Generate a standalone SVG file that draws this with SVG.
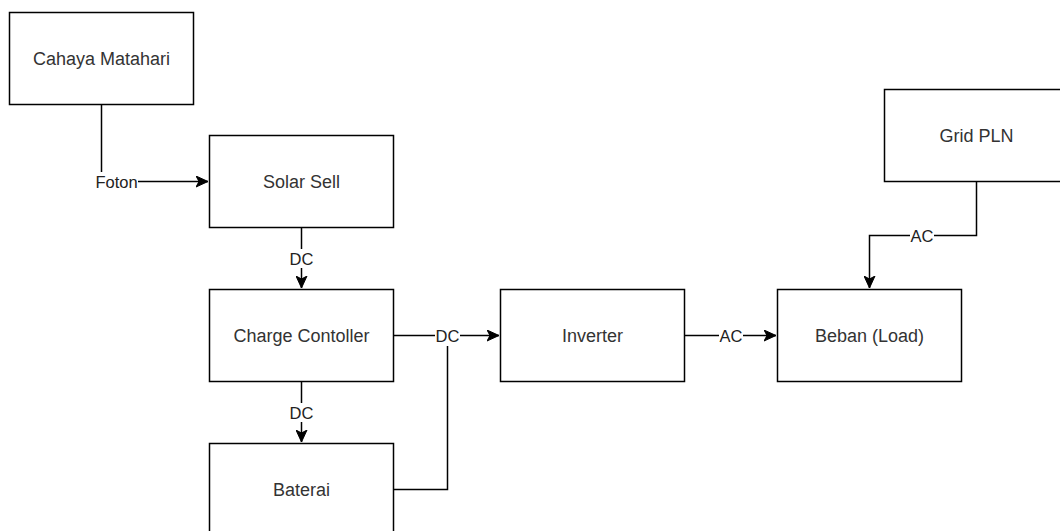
<svg xmlns="http://www.w3.org/2000/svg" width="1060" height="531" viewBox="0 0 1060 531">
<style>
.box{fill:#fff;stroke:#000;stroke-width:1.5}
.t{font-family:"Liberation Sans",Arial,sans-serif;font-size:18px;fill:#333;text-anchor:middle;dominant-baseline:central}
.e{fill:none;stroke:#000;stroke-width:1.5}
.lb{fill:#fff}
.lt{font-family:"Liberation Sans",Arial,sans-serif;font-size:16.5px;fill:#222;text-anchor:middle;dominant-baseline:central}
</style>
<defs>
<marker id="arr" markerUnits="userSpaceOnUse" markerWidth="14" markerHeight="12" refX="12" refY="6" orient="auto" viewBox="0 0 14 12">
<path d="M0,0.5 L12,6 L0,11.5 L3,6 Z" fill="#000" stroke="#000" stroke-width="1"/>
</marker>
</defs>
<rect width="1060" height="531" fill="#fff"/>
<g id="connectors">
<path class="e" d="M101.5,104.5 V181.5 H208" marker-end="url(#arr)"/>
<path class="e" d="M301.5,227.5 V288" marker-end="url(#arr)"/>
<path class="e" d="M301.5,381.5 V442" marker-end="url(#arr)"/>
<path class="e" d="M393.5,335.5 H499" marker-end="url(#arr)"/>
<path class="e" d="M393.5,489.5 H447.5 V335.5"/>
<path class="e" d="M684.5,335.5 H776" marker-end="url(#arr)"/>
<path class="e" d="M976.5,181.5 V235.5 H869.5 V288" marker-end="url(#arr)"/>
<rect class="lb" x="95" y="172" width="43" height="19"/>
<text class="lt" x="116.5" y="181.5">Foton</text>
<rect class="lb" x="289" y="249" width="25" height="19"/>
<text class="lt" x="301.5" y="258.5">DC</text>
<rect class="lb" x="289" y="403" width="25" height="19"/>
<text class="lt" x="301.5" y="412.5">DC</text>
<rect class="lb" x="435" y="326" width="25" height="20"/>
<text class="lt" x="447.5" y="335.5">DC</text>
<rect class="lb" x="719" y="326" width="24" height="19"/>
<text class="lt" x="731" y="335.5">AC</text>
<rect class="lb" x="910" y="226" width="24" height="19"/>
<text class="lt" x="922" y="235.5">AC</text>
</g>
<g id="cahaya"><rect class="box" x="9.5" y="12.5" width="184" height="92"/><text class="t" x="101.5" y="58.5">Cahaya Matahari</text></g>
<g id="solar"><rect class="box" x="209.5" y="135.5" width="184" height="92"/><text class="t" x="301.5" y="181.5">Solar Sell</text></g>
<g id="charge"><rect class="box" x="209.5" y="289.5" width="184" height="92"/><text class="t" x="301.5" y="335.5">Charge Contoller</text></g>
<g id="baterai"><rect class="box" x="209.5" y="443.5" width="184" height="92"/><text class="t" x="301.5" y="489.5">Baterai</text></g>
<g id="inverter"><rect class="box" x="500.5" y="289.5" width="184" height="92"/><text class="t" x="592.5" y="335.5">Inverter</text></g>
<g id="beban"><rect class="box" x="777.5" y="289.5" width="184" height="92"/><text class="t" x="869.5" y="335.5">Beban (Load)</text></g>
<g id="grid"><rect class="box" x="884.5" y="89.5" width="184" height="92"/><text class="t" x="976.5" y="135.5">Grid PLN</text></g>
</svg>
